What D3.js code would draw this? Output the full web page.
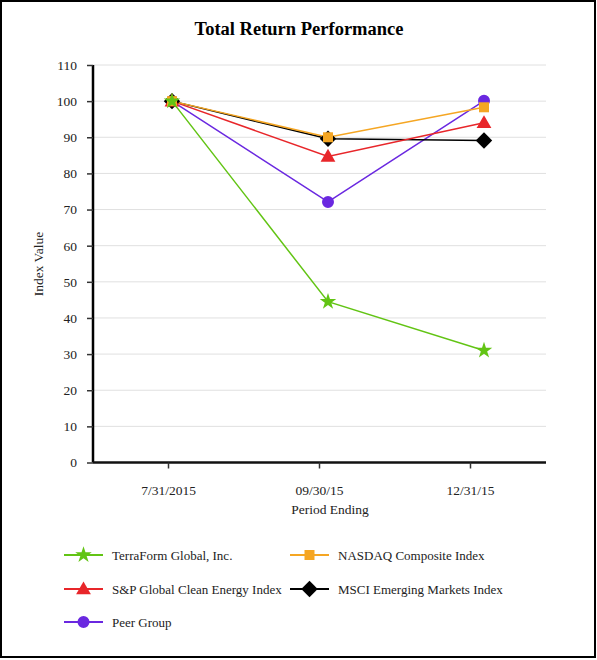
<!DOCTYPE html>
<html><head><meta charset="utf-8">
<script src="https://cdn.jsdelivr.net/npm/d3@7"></script>
<style>body{margin:0;background:#fff}svg{display:block}</style>
</head><body><svg id="c" width="597" height="660"></svg>
<script>
const periods = ["7/31/2015", "09/30/15", "12/31/15"];
const yTicks = [0,10,20,30,40,50,60,70,80,90,100,110];
const terraform = [100, 44.5, 31.0];
const nasdaq = [100, 90.0, 98.3];
const spClean = [100, 84.7, 94.0];
const msci = [100, 89.6, 89.1];
const peer = [100, 72.1, 100.1];
const seriesNames = ["TerraForm Global, Inc.", "NASDAQ Composite Index", "S&P Global Clean Energy Index", "MSCI Emerging Markets Index", "Peer Group"];

(function(){
const svg = d3.select("#c");
const font = "'Liberation Serif', 'Times New Roman', serif";
svg.append("rect").attr("x",1).attr("y",1).attr("width",594).attr("height",656)
  .attr("fill","#fff").attr("stroke","#000").attr("stroke-width",2);

svg.append("text").attr("x",299).attr("y",35).attr("text-anchor","middle")
  .attr("font-family",font).attr("font-weight","bold").attr("font-size",18.5).text("Total Return Performance");

const pLeft=93, pRight=546, pTop=65, pBottom=462.5;
const y = d3.scaleLinear().domain([0,110]).range([pBottom, pTop]);
const xAxisScale = d3.scalePoint().domain(periods).range([168, 470]);
const xMark = d3.scalePoint().domain(periods).range([172, 484]);

svg.append("g").selectAll("line").data(yTicks.filter(d=>d>0)).join("line")
  .attr("x1",pLeft).attr("x2",pRight).attr("y1",d=>y(d)).attr("y2",d=>y(d))
  .attr("stroke","#e0e0e0").attr("stroke-width",1);

const ya = svg.append("g").attr("transform",`translate(${pLeft},0)`)
  .call(d3.axisLeft(y).tickValues(yTicks).tickSize(6).tickPadding(10));
ya.attr("font-family",font);
ya.select(".domain").attr("stroke","#000").attr("stroke-width",2.5).attr("d",`M0,${pTop}V${pBottom}`);
ya.selectAll(".tick line").attr("stroke","#333").attr("stroke-width",1.5);
ya.selectAll("text").attr("font-family",font).attr("font-size",13.5).attr("fill","#222");

const xa = svg.append("g").attr("transform",`translate(0,${pBottom})`)
  .call(d3.axisBottom(xAxisScale).tickSize(6).tickPadding(17));
xa.attr("font-family",font);
xa.select(".domain").attr("stroke","#111").attr("stroke-width",2.5).attr("d",`M${pLeft},0H${pRight}`);
xa.selectAll(".tick line").attr("stroke","#333").attr("stroke-width",1.5);
xa.selectAll("text").attr("font-family",font).attr("font-size",13.5).attr("fill","#222");

svg.append("text").attr("transform","translate(43,264) rotate(-90)").attr("text-anchor","middle")
  .attr("font-family",font).attr("font-size",13.5).attr("fill","#222").text("Index Value");
svg.append("text").attr("x",330).attr("y",514).attr("text-anchor","middle")
  .attr("font-family",font).attr("font-size",13.5).attr("fill","#222").text("Period Ending");

const wideDiamond = {draw(ctx, size){ const r = Math.sqrt(size/2); ctx.moveTo(0,-r); ctx.lineTo(r,0); ctx.lineTo(0,r); ctx.lineTo(-r,0); ctx.closePath(); }};
const star = d3.symbol().type(d3.symbolStar).size(85)();
const sq = d3.symbol().type(d3.symbolSquare).size(100)();
const tri = d3.symbol().type(d3.symbolTriangle).size(95)();
const dia = d3.symbol().type(wideDiamond).size(135)();
const circ = d3.symbol().type(d3.symbolCircle).size(113)();

const sPeer = {name:seriesNames[4], vals:peer, color:"#6a28e0", path:circ, dy:0};
const sMsci = {name:seriesNames[3], vals:msci, color:"#000000", path:dia, dy:0};
const sSp = {name:seriesNames[2], vals:spClean, color:"#e8262a", path:tri, dy:1};
const sNas = {name:seriesNames[1], vals:nasdaq, color:"#f5a623", path:sq, dy:0};
const sTf = {name:seriesNames[0], vals:terraform, color:"#62c414", path:star, dy:0};
const series = [sPeer, sMsci, sSp, sNas, sTf];

const line = d3.line().x((d,i)=>xMark(periods[i])).y(d=>y(d));
series.forEach(s=>{
  svg.append("path").datum(s.vals).attr("d",line).attr("fill","none")
    .attr("stroke",s.color).attr("stroke-width",1.5);
});
series.forEach(s=>{
  svg.append("g").selectAll("path").data(s.vals).join("path")
    .attr("d",s.path).attr("fill",s.color)
    .attr("transform",(d,i)=>`translate(${xMark(periods[i])},${y(d)+s.dy})`);
});

const legend = [
  {s:sTf, x:64, y:555},
  {s:sNas, x:290, y:555},
  {s:sSp, x:64, y:589},
  {s:sMsci, x:290, y:589},
  {s:sPeer, x:64, y:622},
];
legend.forEach(l=>{
  const g = svg.append("g").attr("transform",`translate(${l.x},${l.y})`);
  g.append("line").attr("x1",0).attr("x2",39).attr("stroke",l.s.color).attr("stroke-width",2);
  g.append("path").attr("d",l.s.path).attr("fill",l.s.color).attr("transform",`translate(19.5,${l.s.dy})`);
  g.append("text").attr("x",48).attr("y",5).attr("font-family",font).attr("font-size",13)
    .attr("fill","#222").text(l.s.name);
});
})();
</script></body></html>
